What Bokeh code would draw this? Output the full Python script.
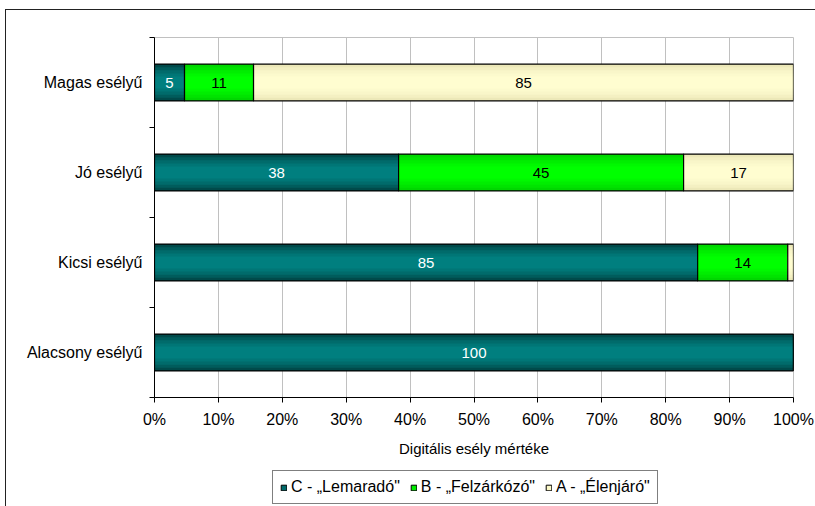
import numpy as np
from bokeh.plotting import figure
from bokeh.layouts import column
from bokeh.models import ColumnDataSource, Range1d, FixedTicker, Legend, LegendItem
from bokeh.core.properties import value
from bokeh.embed import file_html
from bokeh.resources import INLINE

# ---- data ----
categories = ["Alacsony esélyű", "Kicsi esélyű", "Jó esélyű", "Magas esélyű"]
series_names = ['C - „Lemaradó"', 'B - „Felzárkózó"', 'A - „Élenjáró"']
c_values = [100.0, 85.0, 38.2, 4.7]
b_values = [0.0, 14.1, 44.6, 10.8]
a_values = [0.0, 0.9, 17.2, 84.5]
x_ticks = [0, 10, 20, 30, 40, 50, 60, 70, 80, 90, 100]
x_tick_labels = ["0%", "10%", "20%", "30%", "40%", "50%", "60%", "70%", "80%", "90%", "100%"]
x_title = "Digitális esély mértéke"

FONT = "Liberation Sans"
series_values = [c_values, b_values, a_values]
# gradient layers per series (edge -> center)
series_shades = [
    ["#004a4a", "#005c5c", "#006b6b", "#007676", "#007f7f"],
    ["#00d800", "#00e400", "#00ee00", "#00f800", "#00ff00"],
    ["#ece8b8", "#f4f0c2", "#f9f6c9", "#fcfacd", "#fffdd0"],
]
swatch_colors = ["#006b6b", "#00ee00", "#fbf8c8"]
label_colors = ["white", "black", "black"]
BAR_H = 0.41

p = figure(width=809, height=454, x_range=Range1d(0, 100), y_range=Range1d(0, 4),
           output_backend="svg", toolbar_location=None,
           min_border_left=148, min_border_right=22, min_border_top=27, min_border_bottom=67)
p.background_fill_color = "white"
p.border_fill_color = "white"
p.outline_line_color = "#c0c0c0"
p.outline_line_width = 1

y_pos = np.arange(len(categories)) + 0.5
lefts = np.zeros(len(categories))
txt_x, txt_y, txt_t, txt_c = [], [], [], []
for si, vals in enumerate(series_values):
    vals = np.array(vals)
    rights = lefts + vals
    src = ColumnDataSource(dict(y=y_pos, left=lefts, right=rights))
    shades = series_shades[si]
    n = len(shades)
    for k, col in enumerate(shades):
        h = BAR_H * (1 - k / n * 0.85)
        p.hbar(y="y", left="left", right="right", height=h, source=src,
               fill_color=col, line_color=None)
    p.hbar(y="y", left="left", right="right", height=BAR_H, source=src,
           fill_alpha=0.0, line_color="black", line_width=1.2)
    for i, v in enumerate(vals):
        if v >= 3:
            txt_x.append(lefts[i] + v / 2)
            txt_y.append(y_pos[i])
            txt_t.append(str(int(v + 0.5)))
            txt_c.append(label_colors[si])
    lefts = rights

tsrc = ColumnDataSource(dict(x=txt_x, y=txt_y, t=txt_t, c=txt_c))
p.text(x="x", y="y", text="t", text_color="c", source=tsrc, text_align="center",
       text_baseline="middle", text_font=value(FONT), text_font_size="15px")

# axes
p.xaxis.ticker = FixedTicker(ticks=x_ticks, minor_ticks=[])
p.xaxis.major_label_overrides = {t: l for t, l in zip(x_ticks, x_tick_labels)}
p.xaxis.axis_label = x_title
p.xaxis.axis_label_text_font = FONT
p.xaxis.axis_label_text_font_style = "normal"
p.xaxis.axis_label_text_font_size = "15px"
p.xaxis.axis_label_text_color = "black"
p.xaxis.axis_label_standoff = 9
p.xaxis.major_label_text_font = FONT
p.xaxis.major_label_text_font_size = "16px"
p.xaxis.major_label_text_color = "black"
p.xaxis.major_label_standoff = 8
p.xaxis.major_tick_out = 5
p.xaxis.major_tick_in = 0
p.xaxis.axis_line_color = "black"
p.xaxis.major_tick_line_color = "black"

p.yaxis.ticker = FixedTicker(ticks=list(y_pos), minor_ticks=list(np.arange(len(categories) + 1)))
p.yaxis.major_label_overrides = {float(y): c for y, c in zip(y_pos, categories)}
p.yaxis.major_label_text_font = FONT
p.yaxis.major_label_text_font_size = "16px"
p.yaxis.major_label_text_color = "black"
p.yaxis.major_tick_out = 0
p.yaxis.major_tick_in = 0
p.yaxis.minor_tick_out = 5
p.yaxis.minor_tick_in = 0
p.yaxis.major_label_standoff = 7
p.yaxis.axis_line_color = "black"
p.yaxis.minor_tick_line_color = "black"

p.xgrid.ticker = FixedTicker(ticks=x_ticks)
p.xgrid.grid_line_color = "#c0c0c0"
p.ygrid.grid_line_color = None

# legend strip below (its frame is aligned with the main plot's frame by the column layout)
q = figure(width=809, height=42, x_range=Range1d(0, 1), y_range=Range1d(0, 1),
           output_backend="svg", toolbar_location=None, x_axis_type=None, y_axis_type=None,
           min_border_left=148, min_border_right=22, min_border_top=0, min_border_bottom=0)
q.outline_line_color = None
q.background_fill_color = "white"
q.border_fill_color = "white"
leg_renderers = []
for si in range(3):
    r = q.hbar(y=[-5], left=[-6], right=[-5], height=1,
               fill_color=swatch_colors[si], line_color="black", line_width=1)
    leg_renderers.append(r)
legend = Legend(items=[LegendItem(label=series_names[i], renderers=[leg_renderers[i]]) for i in range(3)],
                orientation="horizontal", location=(118, 2))
legend.label_text_font = FONT
legend.label_text_font_size = "16px"
legend.label_text_color = "black"
legend.border_line_color = "black"
legend.border_line_width = 1
legend.background_fill_color = "white"
legend.glyph_width = 7
legend.glyph_height = 7
legend.label_standoff = 4
legend.spacing = 10
legend.padding = 7
legend.margin = 0
legend.label_height = 16
q.add_layout(legend, "center")

layout = column(p, q, spacing=0)
layout.styles = {"margin-left": "5px", "margin-top": "9px",
                 "border-left": "1px solid #222", "border-top": "1px solid #222"}

open("out.html", "w").write(file_html(layout, INLINE))
